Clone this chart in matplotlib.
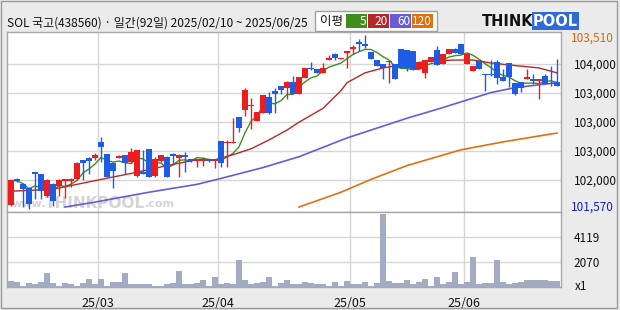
import matplotlib
matplotlib.use('Agg')
import matplotlib.pyplot as plt
from matplotlib.patches import Rectangle
import numpy as np
import pandas as pd

plt.rcParams['font.family'] = ['Noto Sans CJK KR', 'DejaVu Sans']

# ---------------- data ----------------
title = "SOL 국고(438560) · 일간(92일) 2025/02/10 ~ 2025/06/25"
month_idx = [15, 35, 57, 76]
month_labels = ['25/03', '25/04', '25/05', '25/06']

opens = [101614, 101900, 101845, 101801, 101977, 101955, 101713, 101845, 101823, 101878,
         101878, 101900, 102120, 102142, 102142, 102318, 102186, 102087, 102142, 102175,
         102098, 101933, 101977, 102241, 101933, 102109, 102153, 102186, 102142, 102175,
         102131, 102109, 102109, 102131, 102109, 102329, 102307, 102307, 102593, 102670,
         102714, 102549, 102637, 102824, 102890, 102945, 102923, 102989, 102857, 103033,
         103143, 103132, 103088, 103231, 103297, 103242, 103308, 103352, 103429, 103407,
         103319, 103231, 103187, 103209, 103187, 103352, 103341, 103330, 103132, 103088,
         103209, 103341, 103187, 103297, 103352, 103407, 103187, 103110, 103220, 103077,
         103077, 103209, 103044, 103198, 102978, 102989, 103022, 103022, 103000, 103055,
         102978, 102989]
highs = [101889, 101911, 101856, 101812, 101988, 101955, 101900, 101856, 101900, 101900,
         101911, 102098, 102120, 102153, 102197, 102377, 102186, 102098, 102175, 102175,
         102252, 102230, 102230, 102241, 102153, 102175, 102164, 102197, 102186, 102208,
         102131, 102131, 102153, 102131, 102120, 102329, 102340, 102582, 102593, 102923,
         102813, 102648, 102846, 102879, 102923, 102945, 103000, 103055, 103044, 103143,
         103209, 103132, 103198, 103286, 103308, 103253, 103330, 103396, 103462, 103510,
         103319, 103231, 103187, 103220, 103187, 103352, 103341, 103330, 103198, 103231,
         103264, 103385, 103297, 103352, 103363, 103407, 103308, 103165, 103231, 103077,
         103231, 103231, 103132, 103198, 102978, 102989, 103132, 103077, 103022, 103077,
         103165, 103242]
lows = [101603, 101867, 101592, 101570, 101680, 101680, 101702, 101603, 101713, 101691,
        101812, 101889, 101889, 101955, 102120, 102098, 101922, 101801, 102142, 101955,
        102087, 101922, 101955, 101922, 101922, 102098, 101922, 102065, 101922, 101988,
        102098, 102043, 102054, 102098, 102032, 102043, 102043, 102307, 102428, 102604,
        102461, 102549, 102637, 102626, 102637, 102857, 102802, 102857, 102857, 103033,
        103121, 103088, 103088, 103231, 103231, 103242, 103143, 103297, 103330, 103363,
        103242, 103165, 103022, 102978, 103022, 103143, 103110, 103121, 103132, 103033,
        103209, 103176, 103187, 103297, 103308, 103297, 103187, 103110, 103132, 102890,
        103055, 102967, 103000, 102934, 102846, 102879, 103022, 102967, 102802, 102967,
        102945, 102945]
closes = [101889, 101878, 101790, 101625, 101955, 101768, 101889, 101658, 101889, 101900,
          101900, 102087, 102087, 102109, 102175, 102263, 101922, 101999, 102164, 102087,
          102208, 102230, 101955, 101922, 102131, 102175, 101922, 102164, 102175, 102153,
          102109, 102120, 102120, 102109, 102120, 102087, 102318, 102318, 102472, 102901,
          102725, 102648, 102846, 102637, 102857, 102901, 102989, 102857, 103044, 103143,
          103132, 103088, 103143, 103253, 103253, 103253, 103330, 103374, 103407, 103385,
          103242, 103165, 103143, 103220, 103022, 103143, 103143, 103121, 103198, 103231,
          103264, 103176, 103297, 103352, 103308, 103297, 103297, 103165, 103132, 103066,
          103066, 103033, 103000, 103044, 102857, 102923, 103044, 103000, 103022, 102967,
          102967, 102945]
volumes = [470, 385, 110, 300, 220, 385, 1130, 300, 110, 300,
           220, 110, 300, 630, 220, 630, 110, 385, 385, 1130,
           220, 220, 220, 220, 110, 110, 220, 300, 1290, 220,
           220, 300, 550, 110, 800, 220, 300, 220, 2200, 550,
           220, 300, 385, 800, 110, 300, 550, 220, 220, 385,
           300, 220, 220, 110, 385, 110, 470, 220, 220, 385,
           110, 300, 6050, 470, 300, 300, 550, 220, 385, 690,
           110, 800, 220, 385, 1210, 220, 385, 2450, 220, 300,
           300, 2255, 385, 220, 300, 385, 550, 550, 550, 550,
           470, 470]

ma20_idx = [0, 7, 15, 20, 26, 31, 34, 37, 40, 43, 46, 48, 52, 55, 56, 59, 62, 66, 70, 74, 77, 80, 83, 88, 91]
ma20_val = [101768, 101790, 101900, 101966, 102054, 102120, 102120, 102175, 102241, 102340,
            102450, 102538, 102692, 102890, 102978, 103088, 103143, 103187, 103220, 103231,
            103231, 103198, 103176, 103143, 103088]
ma60_idx = [9, 14, 23, 31, 35, 42, 48, 56, 66, 71, 80, 84, 91]
ma60_val = [101592, 101647, 101757, 101845, 101911, 102032, 102153, 102362, 102582, 102681,
            102868, 102923, 102978]
ma120_idx = [48, 55, 60, 66, 75, 82, 91]
ma120_val = [101592, 101757, 101900, 102054, 102230, 102318, 102417]

price_max = 103510
price_min = 101570
grid_labels = ['104,000', '103,000', '103,000', '103,000', '102,000']
vol_ticks = [4119, 2070]
vol_top = 6178

legend_labels = ['5', '20', '60', '120']

# ---------------- styles ----------------
RED = '#EE1C1C'
BLUE = '#1E5CE6'
C_MA = ['#3E8E1E', '#B5282A', '#6A5AD6', '#E07010']
GRID = '#D6D6D6'
FRAME = '#A8A8A8'
BG = '#EBEBEB'

W, H = 620, 310
fig = plt.figure(figsize=(W / 100, H / 100), dpi=100)
fig.patch.set_facecolor(BG)

def fx(px):
    return px / W

def fy(py):
    return 1 - py / H

ax = fig.add_axes([fx(7), fy(212), fx(561) - fx(7), fy(32) - fy(212)])
axv = fig.add_axes([fx(7), fy(287), fx(561) - fx(7), fy(212) - fy(287)], sharex=ax)

n = len(closes)
x = np.arange(n)
o = np.array(opens); c = np.array(closes); h = np.array(highs); l = np.array(lows)
up = c >= o
colors = np.where(up, RED, BLUE)

span = price_max - price_min
ppx = span / 174.0
ax.set_ylim(price_min - 3 * ppx, price_max + 3 * ppx)
ax.set_xlim(-0.667, n - 1 + 0.667)

# watermark
wm_col = '#D4D4D4'
ax.text((46 - 7) / 554, (212 - 204) / 180, 'www.', transform=ax.transAxes, ha='right', va='center',
        fontsize=8, fontweight='bold', color=wm_col, family='DejaVu Sans', zorder=0)
ax.text((95 - 7) / 554, (212 - 203) / 180, 'THINKPOOL', transform=ax.transAxes, ha='center',
        va='center', fontsize=11, fontweight='heavy', color=wm_col, family='DejaVu Sans', zorder=0)
ax.text((145 - 7) / 554, (212 - 204) / 180, '.com', transform=ax.transAxes, ha='left', va='center',
        fontsize=8, fontweight='bold', color=wm_col, family='DejaVu Sans', zorder=0)

# grid
grid_vals = [price_max - k * span / 6 for k in range(1, 6)]
for g in grid_vals:
    ax.axhline(g, color=GRID, lw=1, zorder=1)
for m in month_idx:
    ax.axvline(m - 0.5, color=GRID, lw=1, zorder=1)
    axv.axvline(m - 0.5, color=GRID, lw=1, zorder=1)
for v in vol_ticks:
    axv.axhline(v, color=GRID, lw=1, zorder=1)

# moving averages
ma5 = pd.Series(closes).rolling(5, min_periods=1).mean()
ax.plot(x, ma5, color=C_MA[0], lw=1, zorder=3)
ax.plot(ma20_idx, ma20_val, color=C_MA[1], lw=1, zorder=3)
ax.plot(ma60_idx, ma60_val, color=C_MA[2], lw=1.2, zorder=3)
ax.plot(ma120_idx, ma120_val, color=C_MA[3], lw=1.2, zorder=3)

# candles
ax.vlines(x, l, h, colors=colors, lw=1, zorder=4)
body_bot = np.minimum(o, c)
body_h = np.maximum(np.abs(c - o), ppx * 1.2)
ax.bar(x, body_h, bottom=body_bot, width=0.84, color=colors, zorder=5, linewidth=0)

# volume
axv.bar(x, volumes, width=0.84, color='#A2ABC2', zorder=3, linewidth=0)
axv.set_ylim(0, vol_top)

# axes styling
for a in (ax, axv):
    a.set_facecolor('white')
    for s in a.spines.values():
        s.set_color(FRAME)
        s.set_linewidth(1)
    a.tick_params(length=0)

ax.yaxis.tick_right()
ax.set_yticks(grid_vals)
ax.set_yticklabels(grid_labels)
ax.tick_params(axis='y', pad=9, labelsize=8.5, labelcolor='#111111')
ax.tick_params(axis='x', labelbottom=False)
ax.text(1 + 10 / 554, 1 - 6 / 180, f'{price_max:,}', transform=ax.transAxes, ha='left', va='center',
        fontsize=8.5, color='#D2690F')
ax.text(1 + 10 / 554, 5 / 180, f'{price_min:,}', transform=ax.transAxes, ha='left', va='center',
        fontsize=8.5, color='#1020C8')

axv.yaxis.tick_right()
axv.set_yticks(vol_ticks)
axv.set_yticklabels([str(v) for v in vol_ticks])
axv.tick_params(axis='y', pad=9, labelsize=8.5, labelcolor='#111111')
axv.text(1 + 14 / 554, 0.0, 'x1', transform=axv.transAxes, ha='left', va='center', fontsize=8.5,
         color='#111111')
axv.set_xticks([m - 0.5 for m in month_idx])
axv.set_xticklabels(month_labels)
axv.tick_params(axis='x', pad=7, labelsize=9, labelcolor='#111111')

# title
fig.text(fx(7), fy(23), title, fontsize=8.6, va='center', ha='left', color='#111111')

# legend box
fig.patches.append(Rectangle((fx(315), fy(31)), fx(437) - fx(315), fy(11) - fy(31),
                             transform=fig.transFigure, facecolor='white', edgecolor='#A0A0A0', lw=1))
fig.text(fx(320), fy(21), '이평', fontsize=9, va='center', ha='left', color='#111111')
box_x = [346, 368, 390, 412]
box_w = [21, 21, 21, 21]
for bx, bw, col, lab in zip(box_x, box_w, C_MA, legend_labels):
    fig.patches.append(Rectangle((fx(bx), fy(28)), fx(bw), fy(14) - fy(28),
                                 transform=fig.transFigure, facecolor=col, edgecolor='none'))
    fig.text(fx(bx + bw - 1), fy(21.5), lab, fontsize=8.5, va='center', ha='right', color='white')

# logo
fig.text(fx(482), fy(21), 'THINK', fontsize=10.5, fontweight='heavy', va='center', ha='left',
         color='#111111', family='DejaVu Sans')
fig.text(fx(533), fy(21), 'POOL', fontsize=10.5, fontweight='heavy', va='center', ha='left',
         color='white', family='DejaVu Sans',
         bbox=dict(boxstyle='square,pad=0.08', facecolor='#2F6AD8', edgecolor='none'))

# outer border
fig.patches.append(Rectangle((fx(1), fy(308)), fx(617) - fx(1), fy(1) - fy(308),
                             transform=fig.transFigure, fill=False, edgecolor='#9A9A9A', lw=1))

fig.savefig('out.png', dpi=100, facecolor=fig.get_facecolor())
